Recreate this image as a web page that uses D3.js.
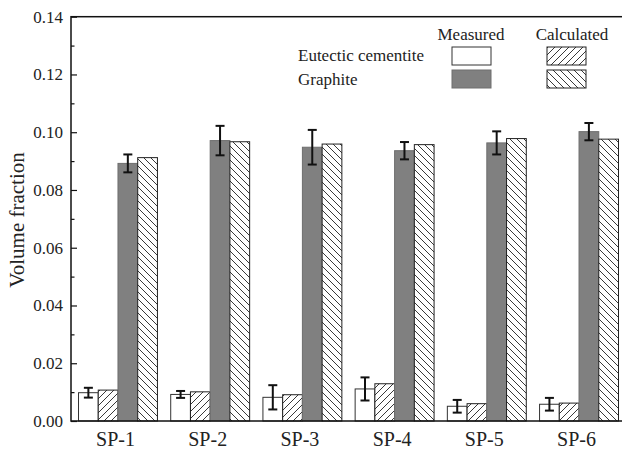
<!DOCTYPE html>
<html><head><meta charset="utf-8">
<script src="https://cdn.jsdelivr.net/npm/d3@7"></script>
<style>
html,body{margin:0;padding:0;background:#fff;}
svg{display:block;}
svg text{font-family:"Liberation Serif","Times New Roman",serif;}
</style></head>
<body>
<svg id="chart" width="622" height="451"></svg>
<script>
const categories = ["SP-1","SP-2","SP-3","SP-4","SP-5","SP-6"];
const cementiteMeasured = [0.0098,0.0092,0.0082,0.0111,0.0051,0.0058];
const cementiteMeasuredErr = [0.0017,0.0012,0.0042,0.0040,0.0022,0.0022];
const cementiteCalculated = [0.0107,0.0101,0.0091,0.0129,0.0060,0.0062];
const graphiteMeasured = [0.0892,0.0971,0.0948,0.0936,0.0963,0.1002];
const graphiteMeasuredErr = [0.0031,0.0051,0.0060,0.0030,0.0040,0.0030];
const graphiteCalculated = [0.0912,0.0967,0.0959,0.0957,0.0978,0.0976];
const yTicks = [0,0.02,0.04,0.06,0.08,0.10,0.12,0.14];
const yMinorTicks = [0.01,0.03,0.05,0.07,0.09,0.11,0.13];
const seriesKeys = ["cm","cc","gm","gc"];

const FONT = "Liberation Serif, Times New Roman, serif";
const svg = d3.select("#chart");
const mLeft = 71, mRight = 625, mTop = 16.7, mBottom = 421;

const defs = svg.append("defs");
function hatch(id, dir){
  const p = defs.append("pattern").attr("id", id).attr("patternUnits","userSpaceOnUse")
    .attr("width",7).attr("height",7);
  p.append("rect").attr("width",7).attr("height",7).attr("fill","#fff");
  if(dir > 0){
    p.append("path").attr("d","M-1,1 L1,-1 M0,7 L7,0 M6,8 L8,6").attr("stroke","#222").attr("stroke-width",0.9);
  } else {
    p.append("path").attr("d","M-1,6 L1,8 M0,0 L7,7 M6,-1 L8,1").attr("stroke","#222").attr("stroke-width",0.9);
  }
}
hatch("hUp", 1);
hatch("hDown", -1);

const x = d3.scaleBand().domain(categories).range([mLeft, mRight]).paddingInner(0.144).paddingOuter(0.076);
const xs = d3.scaleBand().domain(seriesKeys).range([0, x.bandwidth()]);
const y = d3.scaleLinear().domain([0, 0.14]).range([mBottom, mTop]);

const styles = {
  cm: {fill:"#fff", stroke:"#333"},
  cc: {fill:"url(#hUp)", stroke:"#222"},
  gm: {fill:"#808080", stroke:"#6e6e6e"},
  gc: {fill:"url(#hDown)", stroke:"#222"}
};
const values = {cm: cementiteMeasured, cc: cementiteCalculated, gm: graphiteMeasured, gc: graphiteCalculated};
const errs = {cm: cementiteMeasuredErr, gm: graphiteMeasuredErr};

const rows = [];
categories.forEach((c,i)=>{
  seriesKeys.forEach(k=>rows.push({cat:c, key:k, v:values[k][i], e: errs[k] ? errs[k][i] : null}));
});

svg.append("g").selectAll("rect").data(rows).join("rect")
  .attr("x", d=>x(d.cat)+xs(d.key)+0.5)
  .attr("y", d=>y(d.v))
  .attr("width", xs.bandwidth())
  .attr("height", d=>y(0)-y(d.v))
  .attr("fill", d=>styles[d.key].fill)
  .attr("stroke", d=>styles[d.key].stroke)
  .attr("stroke-width", 1);

// error bars
const eg = svg.append("g").attr("stroke","#111").attr("stroke-width",2).attr("fill","none");
rows.filter(d=>d.e!==null).forEach(d=>{
  const cx = x(d.cat)+xs(d.key)+xs.bandwidth()/2+0.5;
  const y1 = y(d.v+d.e), y2 = y(d.v-d.e);
  eg.append("line").attr("x1",cx).attr("x2",cx).attr("y1",y1).attr("y2",y2);
  eg.append("line").attr("x1",cx-4.5).attr("x2",cx+4.5).attr("y1",y1).attr("y2",y1);
  eg.append("line").attr("x1",cx-4.5).attr("x2",cx+4.5).attr("y1",y2).attr("y2",y2);
});

// frame
svg.append("rect").attr("x",mLeft).attr("y",mTop).attr("width",mRight-mLeft).attr("height",mBottom-mTop)
  .attr("fill","none").attr("stroke","#111").attr("stroke-width",1.5);

// y axis (inner ticks)
const yAxis = d3.axisRight(y).tickValues(yTicks).tickSize(6).tickFormat(()=> "");
const ga = svg.append("g").attr("transform",`translate(${mLeft},0)`).call(yAxis);
ga.select(".domain").remove();
ga.selectAll("line").attr("stroke","#111").attr("stroke-width",1.2);
const yMinor = d3.axisRight(y).tickValues(yMinorTicks).tickSize(3.5).tickFormat(()=> "");
const gm = svg.append("g").attr("transform",`translate(${mLeft},0)`).call(yMinor);
gm.select(".domain").remove();
gm.selectAll("line").attr("stroke","#111").attr("stroke-width",1.2);

// y labels
svg.append("g").selectAll("text").data(yTicks).join("text")
  .attr("x", mLeft-8).attr("y", d=>y(d)).attr("dy","0.35em")
  .attr("text-anchor","end").attr("font-size",17).attr("font-family",FONT).attr("fill","#222")
  .text(d3.format(".2f"));

// x labels
const xAxis = d3.axisBottom(x).tickSize(0).tickPadding(11);
const gx = svg.append("g").attr("transform",`translate(0,${mBottom})`).call(xAxis)
  .attr("font-family",FONT).attr("font-size",20);
gx.select(".domain").remove();
gx.selectAll("text").attr("font-size",20).attr("font-family",FONT).attr("fill","#222")
  .attr("dx","-2");

// y title
svg.append("text").attr("transform","translate(24,220) rotate(-90)")
  .attr("text-anchor","middle").attr("font-size",21).attr("font-family",FONT).attr("fill","#222").text("Volume fraction");

// legend
const lg = svg.append("g").attr("font-size",17).attr("font-family",FONT).attr("fill","#222");
lg.append("text").attr("x",471).attr("y",40).attr("text-anchor","middle").text("Measured");
lg.append("text").attr("x",572).attr("y",40).attr("text-anchor","middle").text("Calculated");
lg.append("text").attr("x",298).attr("y",61).text("Eutectic cementite");
lg.append("text").attr("x",298).attr("y",85).text("Graphite");
const legendBoxes = [
  {k:"cm", x:452, y:47}, {k:"cc", x:547, y:47},
  {k:"gm", x:452, y:70}, {k:"gc", x:547, y:70}
];
lg.selectAll("rect").data(legendBoxes).join("rect")
  .attr("x",d=>d.x).attr("y",d=>d.y).attr("width",39).attr("height",18)
  .attr("fill",d=>styles[d.k].fill).attr("stroke",d=>styles[d.k].stroke).attr("stroke-width",1);
</script>
</body></html>
